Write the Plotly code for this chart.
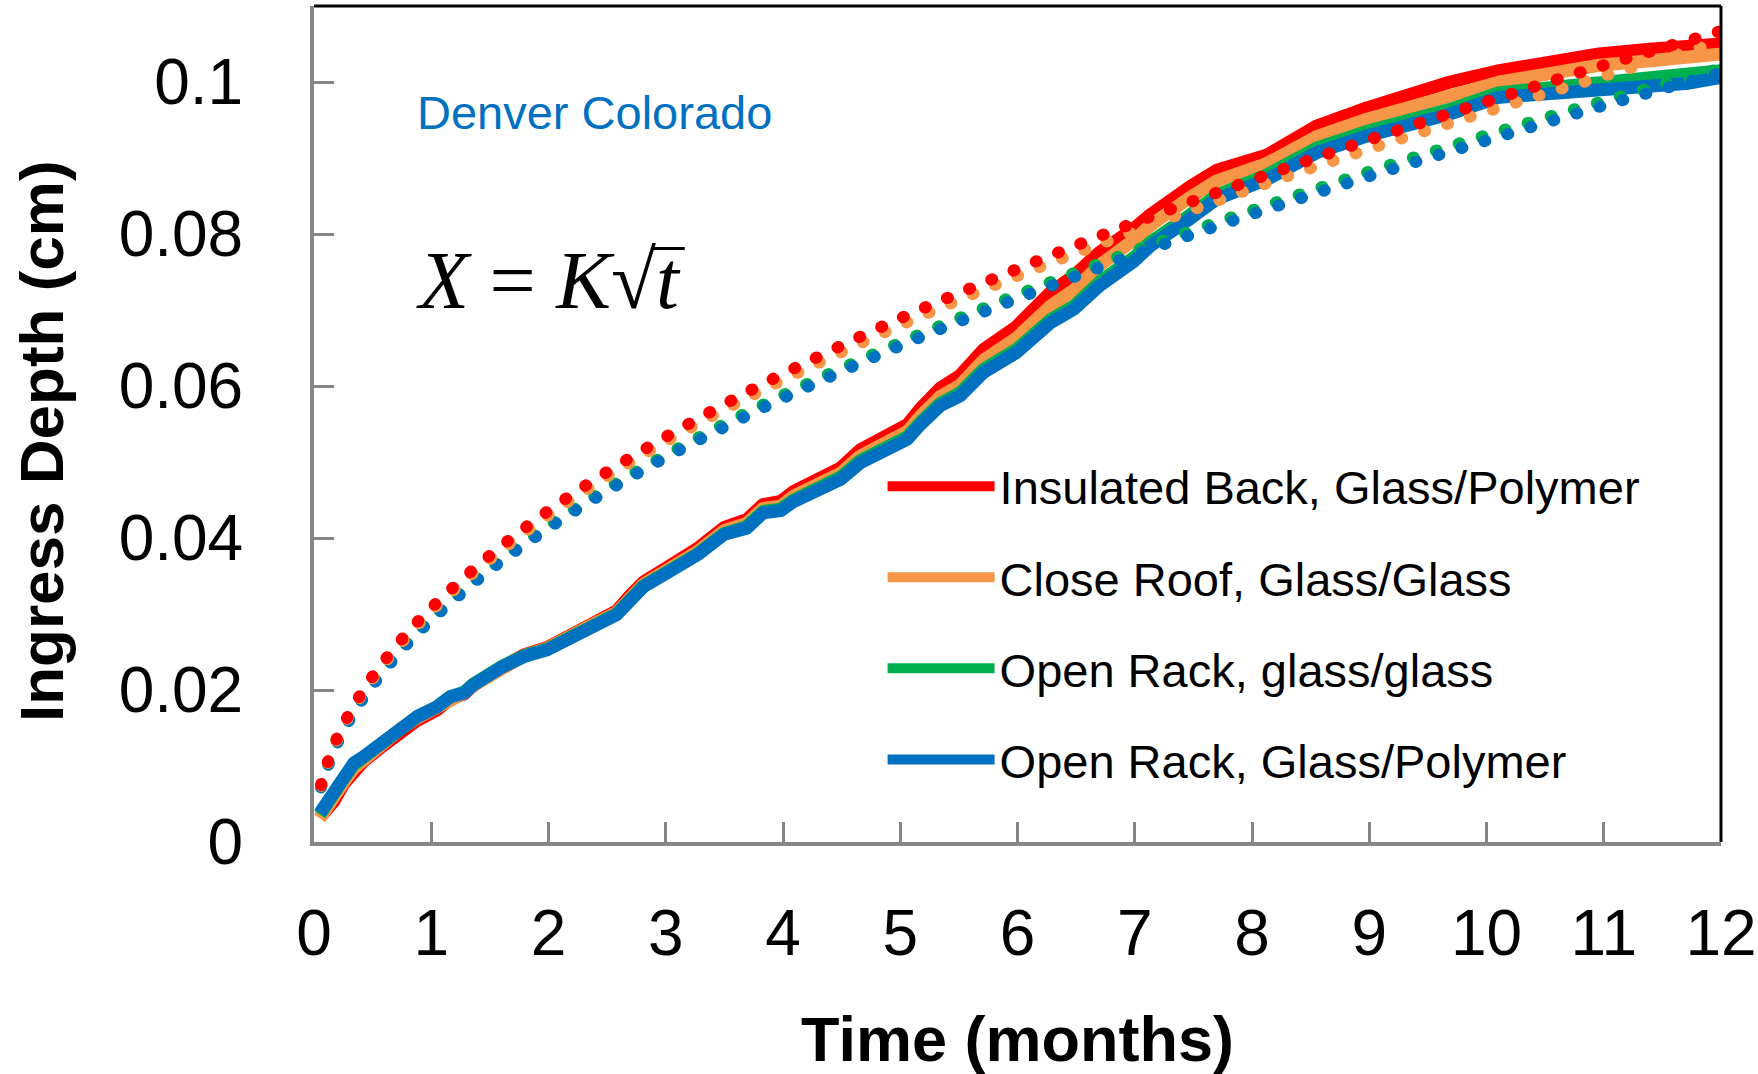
import plotly.graph_objects as go

# ---------------- data ----------------
time_months = [0.05, 0.17, 0.25, 0.34, 0.42, 0.6, 0.74, 0.88, 1.05, 1.16, 1.28, 1.36, 1.59, 1.79,
               1.99, 2.16, 2.36, 2.58, 2.70, 2.81, 3.01, 3.27, 3.5, 3.69, 3.83, 3.98, 4.09, 4.49,
               4.66, 4.83, 5.06, 5.17, 5.34, 5.51, 5.71, 5.99, 6.28, 6.48, 6.70, 7.0, 7.13, 7.47,
               7.70, 8.13, 8.55, 8.98, 9.40, 9.69, 10.11, 10.5, 10.96, 11.39, 11.7, 12.0]

insulated_back_gp = [0.0032, 0.0054, 0.0076, 0.0095, 0.0106, 0.0128, 0.0146, 0.0160, 0.0174, 0.0188,
                     0.0195, 0.0206, 0.0229, 0.0246, 0.0256, 0.0271, 0.0287, 0.0304, 0.0325, 0.0342,
                     0.0361, 0.0386, 0.0414, 0.0424, 0.0444, 0.0448, 0.0461, 0.0492, 0.0516, 0.0530,
                     0.0549, 0.0570, 0.0597, 0.0614, 0.0648, 0.0678, 0.0723, 0.0745, 0.0776, 0.0808,
                     0.0825, 0.0862, 0.0884, 0.0904, 0.0942, 0.0966, 0.0986, 0.1000, 0.1015, 0.1027,
                     0.1037, 0.1043, 0.1048, 0.1050]
close_roof_gg = [0.0031, 0.0055, 0.0078, 0.0097, 0.0108, 0.0130, 0.0149, 0.0163, 0.0176, 0.0189,
                 0.0196, 0.0206, 0.0229, 0.0245, 0.0255, 0.0270, 0.0285, 0.0302, 0.0322, 0.0339,
                 0.0358, 0.0382, 0.0410, 0.0419, 0.0439, 0.0442, 0.0455, 0.0485, 0.0508, 0.0521,
                 0.0540, 0.0560, 0.0586, 0.0601, 0.0634, 0.0663, 0.0705, 0.0726, 0.0759, 0.0793,
                 0.0811, 0.0848, 0.0870, 0.0893, 0.0928, 0.0951, 0.0969, 0.0983, 0.1000, 0.1010,
                 0.1022, 0.1028, 0.1032, 0.1037]
open_rack_gg = [0.0036, 0.0060, 0.0083, 0.0102, 0.0111, 0.0133, 0.0151, 0.0165, 0.0178, 0.0191,
                0.0197, 0.0208, 0.0230, 0.0245, 0.0254, 0.0269, 0.0283, 0.0300, 0.0320, 0.0337,
                0.0355, 0.0379, 0.0406, 0.0415, 0.0435, 0.0438, 0.0450, 0.0480, 0.0502, 0.0515,
                0.0533, 0.0552, 0.0577, 0.0591, 0.0622, 0.0648, 0.0687, 0.0705, 0.0737, 0.0770,
                0.0789, 0.0825, 0.0851, 0.0878, 0.0913, 0.0935, 0.0951, 0.0964, 0.0986, 0.0992,
                0.0997, 0.1003, 0.1007, 0.1015]
open_rack_gp = [0.0038, 0.0064, 0.0086, 0.0104, 0.0112, 0.0134, 0.0152, 0.0165, 0.0178, 0.0191,
                0.0196, 0.0207, 0.0229, 0.0244, 0.0253, 0.0268, 0.0282, 0.0299, 0.0319, 0.0336,
                0.0354, 0.0378, 0.0405, 0.0413, 0.0433, 0.0436, 0.0448, 0.0477, 0.0499, 0.0512,
                0.0530, 0.0549, 0.0574, 0.0587, 0.0618, 0.0644, 0.0683, 0.0701, 0.0732, 0.0765,
                0.0784, 0.0820, 0.0846, 0.0872, 0.0907, 0.0929, 0.0945, 0.0958, 0.0980, 0.0985,
                0.0988, 0.0994, 0.0998, 0.1006]

# fitted X = K*sqrt(t) curves (dotted)
fit_time = [0.06, 0.1, 0.2, 0.35, 0.5, 0.75, 1, 1.5, 2, 2.5, 3, 3.5, 4, 5, 6, 7, 8, 9, 10, 11, 12]
fit_insulated_back_gp = [0.0075, 0.0097, 0.0138, 0.0182, 0.0218, 0.0267, 0.0308, 0.0377, 0.0436, 0.0487,
                         0.0533, 0.0576, 0.0616, 0.0689, 0.0754, 0.0815, 0.0871, 0.0924, 0.0974, 0.1022, 0.1067]
fit_close_roof_gg = [0.0074, 0.0096, 0.0136, 0.0180, 0.0215, 0.0263, 0.0304, 0.0372, 0.0430, 0.0481,
                     0.0527, 0.0569, 0.0608, 0.0680, 0.0745, 0.0804, 0.0860, 0.0912, 0.0961, 0.1008, 0.1053]
fit_open_rack_gg = [0.0072, 0.0093, 0.0131, 0.0174, 0.0208, 0.0255, 0.0294, 0.0360, 0.0416, 0.0465,
                    0.0509, 0.0550, 0.0588, 0.0657, 0.0720, 0.0778, 0.0831, 0.0882, 0.0930, 0.0975, 0.1018]
fit_open_rack_gp = [0.0072, 0.0092, 0.0131, 0.0173, 0.0206, 0.0253, 0.0292, 0.0358, 0.0413, 0.0462,
                    0.0506, 0.0546, 0.0584, 0.0653, 0.0715, 0.0773, 0.0826, 0.0876, 0.0923, 0.0969, 0.1012]

series_names = ["Insulated Back, Glass/Polymer", "Close Roof, Glass/Glass",
                "Open Rack, glass/glass", "Open Rack, Glass/Polymer"]
series_colors = ["#FF0000", "#F79646", "#00B050", "#0070C0"]

x_ticks = list(range(0, 13))
y_ticks = [0, 0.02, 0.04, 0.06, 0.08, 0.1]
y_tick_text = ["0", "0.02", "0.04", "0.06", "0.08", "0.1"]

SANS = "Liberation Sans, Arial, sans-serif"
SERIF = "Liberation Serif, Times New Roman, serif"
GRAY = "#868686"

fig = go.Figure()

measured = [insulated_back_gp, close_roof_gg, open_rack_gg, open_rack_gp]
for i, (name, col, ys) in enumerate(zip(series_names, series_colors, measured)):
    fig.add_trace(go.Scatter(x=time_months, y=ys, mode="lines", name=name,
                             legendgroup=f"g{i}",
                             line=dict(color=col, width=13)))

fits = [fit_insulated_back_gp, fit_close_roof_gg, fit_open_rack_gg, fit_open_rack_gp]
# drawing order: green, blue, orange, red (red on top)
for i in [2, 3, 1, 0]:
    fig.add_trace(go.Scatter(x=fit_time, y=fits[i], mode="lines", name=series_names[i] + " fit",
                             showlegend=False, line=dict(color=series_colors[i], width=12,
                                                          dash="1px,23px", shape="spline")))

fig.update_layout(
    width=1758, height=1074, autosize=False,
    margin=dict(l=314, r=37, t=6, b=232, pad=0, autoexpand=False),
    paper_bgcolor="white", plot_bgcolor="white",
    font=dict(family=SANS, color="black"),
    showlegend=True,
    legend=dict(x=0.4041, y=0.470, xanchor="left", yanchor="top",
                font=dict(size=47, family=SANS, color="black"),
                itemwidth=107, tracegroupgap=27, traceorder="grouped",
                bgcolor="rgba(0,0,0,0)", borderwidth=0),
    xaxis=dict(range=[0, 12], tickvals=x_ticks, ticks="inside", ticklen=20, tickwidth=3,
               tickcolor=GRAY, showline=True, linecolor=GRAY, linewidth=4, mirror=False,
               showgrid=False, zeroline=False, ticklabelstandoff=32, automargin=False,
               tickfont=dict(size=64, family=SANS, color="black"),
               title=dict(text="<b>Time (months)</b>", font=dict(size=63, family=SANS, color="black"),
                          standoff=59)),
    yaxis=dict(range=[0, 0.11], tickvals=y_ticks, ticktext=y_tick_text,
               ticks="inside", ticklen=20, tickwidth=3,
               tickcolor=GRAY, showline=True, linecolor=GRAY, linewidth=4, mirror=False,
               showgrid=False, zeroline=False, ticklabelstandoff=54, automargin=False,
               tickfont=dict(size=64, family=SANS, color="black"),
               title=dict(text="<b>Ingress Depth (cm)\u00a0\u00a0</b>",
                          font=dict(size=62, family=SANS, color="black"),
                          standoff=36)),
)

# black top & right frame
fig.add_shape(type="line", xref="paper", yref="paper", x0=0, x1=1.0, y0=1, y1=1,
              line=dict(color="black", width=3))
fig.add_shape(type="line", xref="paper", yref="paper", x0=1, x1=1, y0=0, y1=1,
              line=dict(color="black", width=3))

fig.add_annotation(text="Denver Colorado", xref="paper", yref="paper", x=0.072, y=0.873,
                   xanchor="left", yanchor="middle", showarrow=False,
                   font=dict(size=47, family=SANS, color="#0070C0"))
fig.add_annotation(text="<i>X</i> = <i>K</i>√<i>t</i>", xref="paper", yref="paper", x=0.071, y=0.672,
                   xanchor="left", yanchor="middle", showarrow=False,
                   font=dict(size=82, family=SERIF, color="black"))
# vinculum of the square root
fig.add_shape(type="line", xref="paper", yref="paper", x0=0.2395, x1=0.2635, y0=0.710, y1=0.710,
              line=dict(color="black", width=3))

post = """
var gd = document.getElementById('{plot_id}');
gd.querySelectorAll('.scatterlayer .trace path.js-line').forEach(function(p){
  var d = p.style.strokeDasharray;
  if (d && d !== 'none') { p.style.strokeLinecap = 'round'; }
  p.style.strokeLinejoin = 'round';
});
"""
fig.write_html("out.html", post_script=post)
